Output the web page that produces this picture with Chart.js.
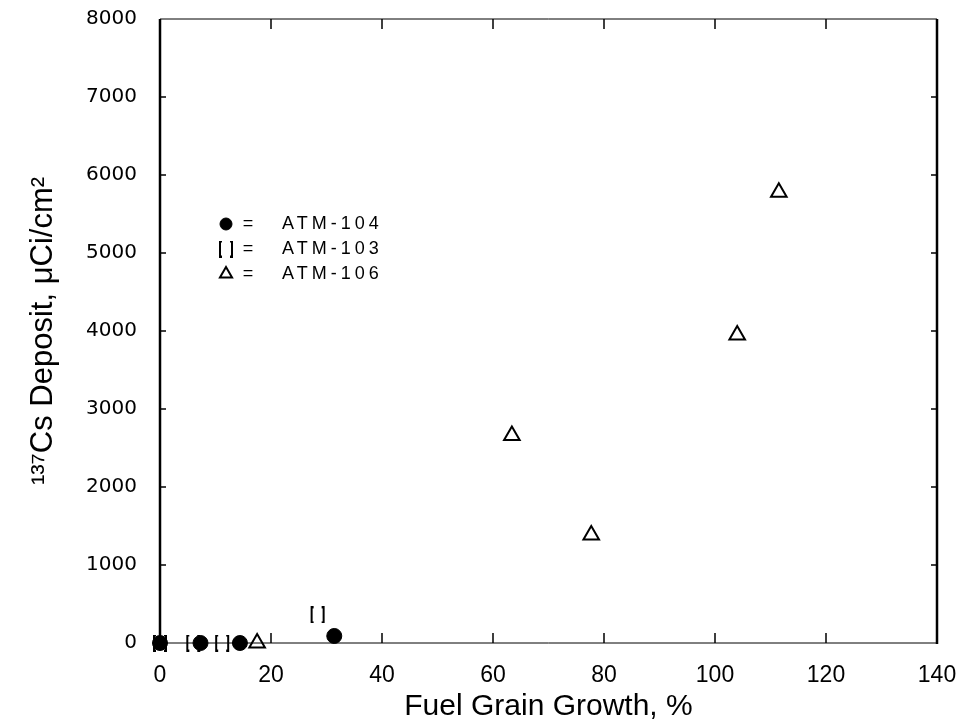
<!DOCTYPE html>
<html>
<head>
<meta charset="utf-8">
<script src="https://cdn.jsdelivr.net/npm/chart.js@4.4.0/dist/chart.umd.min.js"></script>
<style>
   body { margin: 0; background: #fff; }
   canvas { display: block; }
</style>
</head>
<body>
<canvas id="chart" width="958" height="725"></canvas>
<script>
const seriesNames = ['ATM-104', 'ATM-103', 'ATM-106'];

// Fuel grain growth (%) vs 137Cs deposit (uCi/cm2)
const atm104Growth = [0, 7.3, 14.4, 31.4];
const atm104Deposit = [0, 0, 0, 90];

const atm103Growth = [0, 6, 11.2, 28.4];
const atm103Deposit = [0, 0, 0, 360];

const atm106Growth = [17.5, 63.4, 77.7, 104, 111.5];
const atm106Deposit = [0, 2660, 1385, 3950, 5780];

const xTicks = [0, 20, 40, 60, 80, 100, 120, 140];
const yTicks = [0, 1000, 2000, 3000, 4000, 5000, 6000, 7000, 8000];

function toPoints(xs, ys){
   return xs.map((x, i) => ({x: x, y: ys[i]}));
}

function makeBracket(){
   // the open squares print as "[ ]" in the scan
   let c = document.createElement('canvas');
   c.width = 16;
   c.height = 17;
   let g = c.getContext('2d');
   g.fillStyle = '#000';
   g.fillRect(1, 0, 2, 17);
   g.fillRect(1, 0, 3, 2);
   g.fillRect(1, 15, 3, 2);
   g.fillRect(13, 0, 2, 17);
   g.fillRect(12, 0, 3, 2);
   g.fillRect(12, 15, 3, 2);
   return c;
}
const bracket = makeBracket();

const styles = [
   {pointStyle: 'circle', radius: 7.5, fill: '#000', border: 1},
   {pointStyle: bracket, radius: 8, fill: '#000', border: 0},
   {pointStyle: 'triangle', radius: 9, fill: 'rgba(0,0,0,0)', border: 2}
];

const frame = {
   id: 'frame',
   afterDraw(chart){
      const {ctx, chartArea: a, scales} = chart;
      ctx.save();
      ctx.strokeStyle = '#000';

      // thin top / bottom, heavy sides
      ctx.lineWidth = 1;
      ctx.beginPath();
      ctx.moveTo(a.left, a.top); ctx.lineTo(a.right, a.top);
      ctx.moveTo(a.left, a.bottom); ctx.lineTo(a.right, a.bottom);
      ctx.stroke();
      ctx.lineWidth = 2.5;
      ctx.beginPath();
      ctx.moveTo(a.left, a.top); ctx.lineTo(a.left, a.bottom);
      ctx.moveTo(a.right, a.top); ctx.lineTo(a.right, a.bottom + 1);
      ctx.stroke();

      // inward ticks
      ctx.lineWidth = 1.5;
      ctx.beginPath();
      xTicks.slice(1, -1).forEach((v) => {
         let px = scales.x.getPixelForValue(v);
         ctx.moveTo(px, a.top); ctx.lineTo(px, a.top + 10);
         ctx.moveTo(px, a.bottom); ctx.lineTo(px, a.bottom - 10);
      });
      yTicks.slice(1, -1).forEach((v) => {
         let py = scales.y.getPixelForValue(v);
         ctx.moveTo(a.left, py); ctx.lineTo(a.left + 6, py);
         ctx.moveTo(a.right, py); ctx.lineTo(a.right - 6, py);
      });
      ctx.stroke();

      // legend inside the plot
      ctx.font = '18px "Liberation Sans", Arial, sans-serif';
      ctx.textBaseline = 'middle';
      seriesNames.forEach((name, i) => {
         let y = a.top + 205 + i * 25;
         let s = styles[i];
         ctx.fillStyle = s.fill;
         ctx.strokeStyle = '#000';
         ctx.lineWidth = s.border;
         Chart.helpers.drawPoint(ctx, {
            pointStyle: s.pointStyle,
            radius: i == 0 ? 6 : 7,
            borderWidth: s.border,
            rotation: 0
         }, a.left + 66, y);
         ctx.fillStyle = '#000';
         ctx.textAlign = 'center';
         ctx.letterSpacing = '0px';
         ctx.fillText('=', a.left + 88, y);
         ctx.textAlign = 'left';
         ctx.letterSpacing = '4px';
         ctx.fillText(name, a.left + 122, y);
      });
      ctx.letterSpacing = '0px';
      ctx.restore();
   }
};

const datasets = [
   [atm104Growth, atm104Deposit],
   [atm103Growth, atm103Deposit],
   [atm106Growth, atm106Deposit]
].map((d, i) => ({
   label: seriesNames[i],
   data: toPoints(d[0], d[1]),
   pointStyle: styles[i].pointStyle,
   pointRadius: styles[i].radius,
   pointHoverRadius: styles[i].radius,
   pointBackgroundColor: styles[i].fill,
   pointBorderColor: '#000',
   pointBorderWidth: styles[i].border,
   clip: false
}));

new Chart(document.getElementById('chart'), {
   type: 'scatter',
   data: {datasets: datasets},
   options: {
      responsive: false,
      animation: false,
      layout: {padding: {top: 19, right: 21, left: 0, bottom: 0}},
      plugins: {
         legend: {display: false},
         tooltip: {enabled: false}
      },
      scales: {
         x: {
            type: 'linear',
            min: 0,
            max: 140,
            afterBuildTicks: (scale) => { scale.ticks = xTicks.map(v => ({value: v})); },
            afterFit: (scale) => {
               scale.height = 82;
               // let the layout padding alone decide the plot edges
               scale.paddingLeft = 0;
               scale.paddingRight = 0;
            },
            grid: {display: false, drawTicks: false},
            border: {display: false},
            ticks: {
               color: '#000',
               padding: 19,
               maxRotation: 0,
               callback: (v) => String(v),
               font: {family: '"Liberation Sans", Arial, sans-serif', size: 23}
            },
            title: {
               display: true,
               text: 'Fuel Grain Growth, %',
               color: '#000',
               padding: {top: 0, bottom: 0},
               font: {family: '"Liberation Sans", Arial, sans-serif', size: 30}
            }
         },
         y: {
            type: 'linear',
            min: 0,
            max: 8000,
            afterBuildTicks: (scale) => { scale.ticks = yTicks.map(v => ({value: v})); },
            afterFit: (scale) => {
               scale.width = 160;
               scale.paddingTop = 0;
               scale.paddingBottom = 0;
            },
            grid: {display: false, drawTicks: false},
            border: {display: false},
            ticks: {
               color: '#000',
               padding: 23,
               callback: (v) => String(v),
               font: {family: '"DejaVu Sans", sans-serif', size: 20}
            },
            title: {
               display: true,
               text: '¹³⁷Cs Deposit, μCi/cm²',
               color: '#000',
               padding: {top: 25, bottom: 0},
               font: {family: '"Liberation Sans", Arial, sans-serif', size: 31}
            }
         }
      }
   },
   plugins: [frame]
});
</script>
</body>
</html>
